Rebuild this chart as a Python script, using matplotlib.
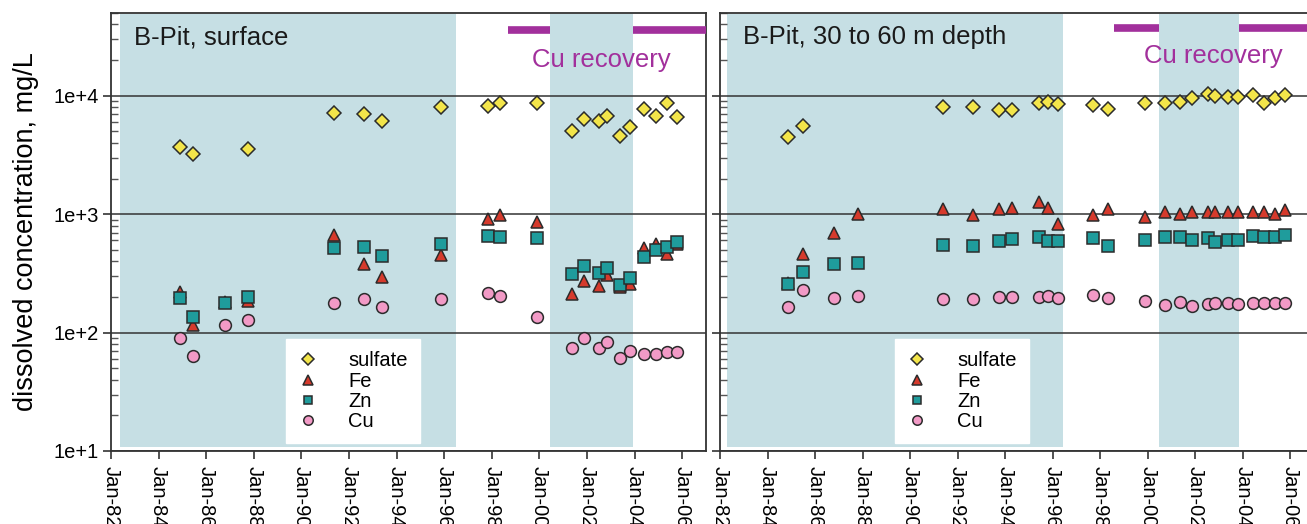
import numpy as np
import matplotlib.pyplot as plt

plt.rcParams['font.family'] = ['Liberation Sans', 'DejaVu Sans']

# ---- B-Pit, surface (decimal year, mg/L) ----
S_YEAR = [1984.88, 1985.44, 1986.80, 1987.76, 1991.38, 1992.63, 1993.39, 1995.87,
          1997.83, 1998.34, 1999.89, 2001.39, 2001.87, 2002.50, 2002.83, 2003.39,
          2003.82, 2004.40, 2004.89, 2005.37, 2005.79]
S_SULFATE = [3716, 3200, np.nan, 3575, 7200, 7020, 6080, 8070,
             8190, 8730, 8630, 5070, 6350, 6110, 6780, 4590,
             5470, 7680, 6780, 8730, 6580]
S_FE = [222, 116, 180, 186, 668, 380, 297, 453,
        906, 984, 865, 211, 275, 249, 307, 243,
        256, 515, 557, 459, 560]
S_ZN = [197, 135, 179, 201, 515, 526, 444, 557,
        655, 638, 626, 313, 367, 321, 349, 253,
        291, 438, 499, 532, 579]
S_CU = [89.7, 63.5, 115, 128, 179, 191, 164, 191,
        218, 204, 136, 74.7, 90.8, 74.7, 83, 60.8,
        70.5, 66, 66, 68.4, 68.4]

# ---- B-Pit, 30 to 60 m depth ----
D_YEAR = [1984.88, 1985.48, 1986.80, 1987.80, 1991.40, 1992.64, 1993.76, 1994.27,
          1995.44, 1995.82, 1996.22, 1997.69, 1998.32, 1999.90, 2000.71, 2001.37,
          2001.86, 2002.52, 2002.82, 2003.38, 2003.80, 2004.43, 2004.88, 2005.34,
          2005.79]
D_SULFATE = [4456, 5550, np.nan, np.nan, 7980, 8070, 7570, 7570,
             8630, 8900, 8510, 8300, 7760, 8630, 8630, 8900,
             9510, 10330, 10000, 9810, 9810, 10140, 8730, 9500,
             10140]
D_FE = [260, 461, 698, 998, 1106, 984, 1100, 1122,
        1260, 1135, 822, 984, 1106, 953, 1050, 1000,
        1037, 1050, 1037, 1050, 1050, 1050, 1050, 1000,
        1084]
D_ZN = [256, 327, 378, 390, 550, 539, 594, 614,
        638, 597, 594, 626, 542, 605, 646, 646,
        605, 626, 579, 605, 605, 655, 646, 636,
        667]
D_CU = [164, 229, 197, 205, 191, 191, 201, 201,
        201, 205, 195, 208, 195, 186, 171, 181,
        169, 174, 179, 179, 174, 179, 179, 177,
        177]

# shaded periods and Cu recovery periods (decimal years)
S_SHADE = [(1982.38, 1996.49), (2000.45, 2003.95)]
D_SHADE = [(1982.30, 1996.43), (2000.48, 2003.84)]
S_CU_REC = [(1998.70, 2000.45), (2003.95, 2007.0)]
D_CU_REC = [(1998.60, 2000.48), (2003.84, 2007.0)]

XTICKS = list(range(1982, 2008, 2))
XLABELS = ["Jan-%02d" % (y % 100) for y in XTICKS]

SHADE_COL = "#c6dfe4"
PURPLE = "#a2309c"
EDGE = "#2b2b2b"

SERIES = [
    ("sulfate", "D", 7.2, "#f3e54a"),
    ("Fe", "^", 8.7, "#d63a2c"),
    ("Zn", "s", 8.0, "#1f9c9c"),
    ("Cu", "o", 8.5, "#f29ac6"),
]


def draw_panel(ax, years, values, shade, cu_rec, title, cu_xy):
    for x0, x1 in shade:
        ax.axvspan(x0, x1, ymin=0.008, ymax=0.998, color=SHADE_COL, lw=0, zorder=0)

    for (name, mk, ms, col), vals in zip(SERIES, values):
        ax.plot(years, vals, ls="none", marker=mk, ms=ms, mfc=col, mec=EDGE,
                mew=1.1, label=name, zorder=3)

    ax.set_yscale("log")
    ax.set_ylim(10, 5e4)
    ax.set_xlim(1982, 2007)
    ax.set_xticks(XTICKS)
    ax.set_xticklabels(XLABELS, rotation=270, fontsize=14.5)
    ax.set_yticks([10, 100, 1000, 10000])
    ax.grid(True, which="major", axis="y", color="#333333", lw=1.1, zorder=1)

    ax.tick_params(which="major", direction="out", length=6, width=1.2, color="#333333")
    ax.tick_params(axis="y", which="minor", direction="in", length=5, width=1.0,
                   color="#555555")
    ax.tick_params(axis="x", pad=5)
    for sp in ax.spines.values():
        sp.set_color("#333333")
        sp.set_linewidth(1.3)

    # Cu recovery periods
    for x0, x1 in cu_rec:
        ax.hlines(cu_xy[2], x0, x1, color=PURPLE, lw=5.5, zorder=4)
    ax.text(cu_xy[0], cu_xy[1], "Cu recovery", color=PURPLE, fontsize=18.5,
            ha="center", va="center", zorder=4)
    ax.text(0.038, 0.945, title, transform=ax.transAxes, fontsize=18.5,
            ha="left", va="center", color="#1a1a1a", zorder=4)

    leg = ax.legend(loc="lower left", bbox_to_anchor=(0.294, 0.018), borderaxespad=0,
                    frameon=True, fancybox=False, fontsize=14.5, markerscale=0.8,
                    handlelength=1.0, handletextpad=1.5, labelspacing=0.06,
                    borderpad=0.6)
    frame = leg.get_frame()
    frame.set_facecolor("white")
    frame.set_edgecolor("white")
    frame.set_alpha(1.0)
    leg.set_zorder(5)


fig = plt.figure(figsize=(13.07, 5.24), dpi=100)
ax1 = fig.add_axes([111 / 1307, 73 / 524, 595 / 1307, 438 / 524])
ax2 = fig.add_axes([720 / 1307, 73 / 524, 594 / 1307, 438 / 524])

draw_panel(ax1, S_YEAR, [S_SULFATE, S_FE, S_ZN, S_CU], S_SHADE, S_CU_REC,
           "B-Pit, surface", (2002.6, 2.0e4, 3.58e4))
draw_panel(ax2, D_YEAR, [D_SULFATE, D_FE, D_ZN, D_CU], D_SHADE, D_CU_REC,
           "B-Pit, 30 to 60 m depth", (2002.76, 2.15e4, 3.77e4))

ax1.set_yticklabels(["1e+1", "1e+2", "1e+3", "1e+4"], fontsize=14.5)
ax1.tick_params(axis="y", which="major", pad=3)
ax2.set_yticklabels([])
ax1.set_ylabel("dissolved concentration, mg/L", fontsize=19.5, labelpad=10)

fig.savefig("out.png", dpi=100)
